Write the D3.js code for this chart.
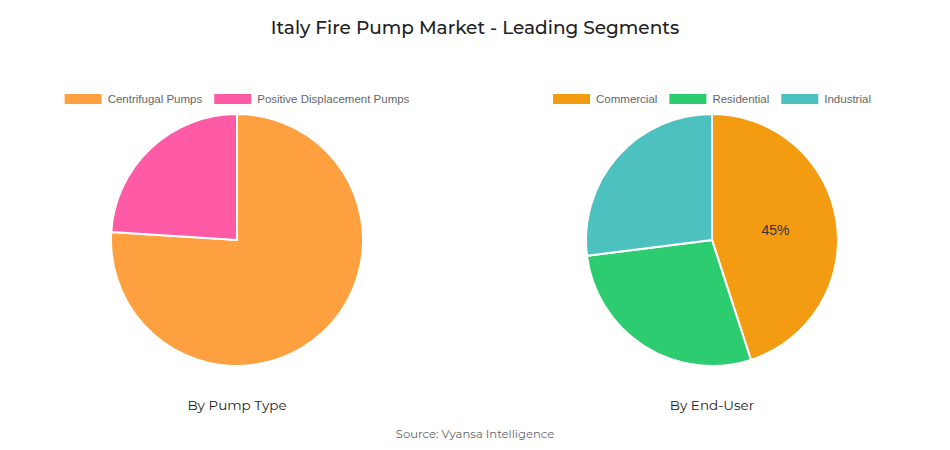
<!DOCTYPE html>
<html><head><meta charset="utf-8">
<script src="https://cdn.jsdelivr.net/npm/d3@7"></script>
<style>body{margin:0;background:#fff}svg{display:block}</style>
</head><body>
<svg id="c" width="950" height="450"></svg>
<script>
const pumpTypes = ["Centrifugal Pumps", "Positive Displacement Pumps"];
const pumpValues = [76, 24];
const pumpColors = ["#FFA040", "#FF5AA5"];
const endUsers = ["Commercial", "Residential", "Industrial"];
const endUserValues = [45, 28, 27];
const endUserColors = ["#F39C12", "#2ECC71", "#4CC1BF"];

const svg = d3.select("#c");
const titleFont = "Montserrat, 'Noto Sans', 'Open Sans', sans-serif";

svg.append("text").attr("x", 475).attr("y", 34).attr("text-anchor", "middle")
  .attr("font-family", titleFont).attr("font-size", 18.5).attr("font-weight", 500)
  .attr("fill", "#222").text("Italy Fire Pump Market - Leading Segments");

function drawPie(cx, cy, r, cats, vals, colors, subtitle, labels) {
  const g = svg.append("g").attr("transform", `translate(${cx},${cy})`);
  const pie = d3.pie().sort(null).value(d => d.v);
  const arcs = pie(cats.map((c, i) => ({c, v: vals[i], i})));
  const arc = d3.arc().innerRadius(0).outerRadius(r);
  g.selectAll("path").data(arcs).join("path")
    .attr("d", arc).attr("fill", d => colors[d.data.i])
    .attr("stroke", "#fff").attr("stroke-width", 2);
  arcs.forEach(a => {
    const lab = labels[a.data.i];
    if (!lab) return;
    const [x, y] = d3.arc().innerRadius(0).outerRadius(r * 1.02).centroid(a);
    g.append("text").attr("x", x).attr("y", y).attr("text-anchor", "middle")
      .attr("dominant-baseline", "central")
      .attr("font-family", "'Liberation Sans', Arial, sans-serif").attr("font-size", 14)
      .attr("fill", "#333").text(lab);
  });
  const lg = svg.append("g");
  const fs = 11.5, boxW = 37, boxH = 10, gapBT = 6, gapItems = 12;
  const items = [];
  let x = 0;
  cats.forEach((c, i) => {
    const t = lg.append("text").attr("font-family", "'Liberation Sans', Arial, sans-serif")
      .attr("font-size", fs).attr("fill", "#666").text(c);
    const w = t.node().getComputedTextLength();
    items.push({t, x, w, i});
    x += boxW + gapBT + w + (i < cats.length - 1 ? gapItems : 0);
  });
  const start = cx - x / 2;
  const ly = 99;
  items.forEach(it => {
    lg.append("rect").attr("x", start + it.x).attr("y", ly - boxH / 2)
      .attr("width", boxW).attr("height", boxH).attr("fill", colors[it.i]);
    it.t.attr("x", start + it.x + boxW + gapBT).attr("y", ly).attr("dominant-baseline", "central");
  });
  svg.append("text").attr("x", cx).attr("y", 410).attr("text-anchor", "middle")
    .attr("font-family", titleFont).attr("font-size", 13.5).attr("fill", "#222").text(subtitle);
}

drawPie(237, 240, 126, pumpTypes, pumpValues, pumpColors, "By Pump Type", [null, null]);
drawPie(712, 240, 126, endUsers, endUserValues, endUserColors, "By End-User", ["45%", null, null]);

svg.append("text").attr("x", 475).attr("y", 438).attr("text-anchor", "middle")
  .attr("font-family", titleFont).attr("font-size", 11.6).attr("fill", "#666")
  .text("Source: Vyansa Intelligence");
</script>
</body></html>
